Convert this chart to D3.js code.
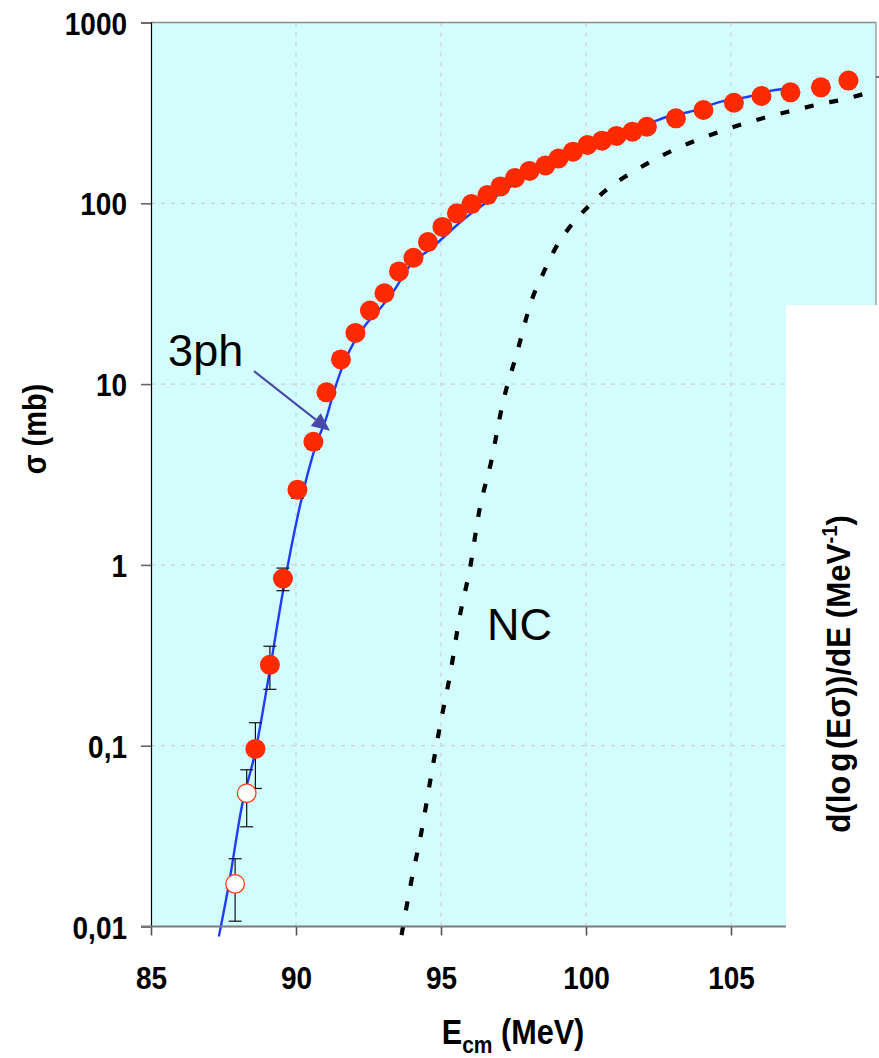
<!DOCTYPE html>
<html>
<head>
<meta charset="utf-8">
<script src="https://cdn.jsdelivr.net/npm/d3@7"></script>
<style>
  html, body { margin: 0; padding: 0; background: #ffffff; }
  svg { display: block; font-family: "Liberation Sans", Arial, Helvetica, sans-serif; }
</style>
</head>
<body>
<svg id="chart" width="879" height="1058"></svg>
<script>
// Measured fusion cross sections (mb) against centre-of-mass energy (MeV)
const energies = [88.6, 89.1, 89.55, 90.05, 90.6, 91.05, 91.55, 92.05, 92.55, 93.05,
                  93.55, 94.05, 94.55, 95.05, 95.55, 96.05, 96.6, 97.05, 97.55, 98.05,
                  98.6, 99.05, 99.55, 100.05, 100.55, 101.05, 101.6, 102.1, 103.1, 104.05,
                  105.1, 106.05, 107.05, 108.1, 109.05];
const sigma = [0.096, 0.28, 0.84, 2.6, 4.8, 9.0, 13.7, 19.2, 25.5, 31.8,
               42, 50, 61, 74, 88, 99, 111, 124, 138, 151,
               162, 177, 193, 210, 222, 236, 249, 265, 295, 328,
               360, 392, 411, 438, 477];
const sigmaErr = [0.038, 0.075, 0.12, 0.26, 0.45, 0.7, 1.0, 1.3, 1.6, 2.0,
                  2.5, 3, 3.5, 4, 4.5, 5, 5.5, 6, 6.5, 7,
                  7.5, 8, 8.5, 9, 9.5, 10, 10.5, 11, 12, 13,
                  14, 15, 16, 17, 18];

// Lowest-energy points (open symbols)
const openEnergies = [87.9, 88.3];
const openSigma = [0.0172, 0.0546];
const openErr = [0.0065, 0.019];

// Coupled-channels calculation including three-phonon states ("3ph")
const fitEnergies = [87.34, 87.69, 88.13, 88.61, 89.08, 89.56, 90.08, 90.42, 90.71, 91.06,
                     91.29, 91.52, 91.75, 91.98, 92.44, 92.9, 93.47, 93.82, 94.73, 95.89,
                     97.0, 98.0, 99.0, 100.0, 101.0, 102.3, 102.8, 103.4, 103.8, 104.4,
                     104.8, 105.4, 105.8, 106.3, 106.8, 107.1];
const fitSigma = [0.0088, 0.0173, 0.046, 0.0946, 0.252, 0.726, 1.93, 3.27, 4.71, 6.61,
                  8.89, 11.5, 14.2, 16.8, 21.7, 26.2, 34.6, 42.8, 57.5, 84.3,
                  112, 143, 176, 208, 240, 282, 301, 316, 328, 355,
                  370, 383, 395, 417, 429, 433];

// No-coupling calculation ("NC")
const ncEnergies = [93.64, 93.955, 94.33, 94.645, 94.97, 95.33, 95.63, 96.02, 96.31, 96.75,
                    97.11, 97.61, 98.13, 98.53, 98.93, 99.45, 100.04, 100.71, 101.46, 102.29,
                    103.1, 103.93, 104.76, 105.62, 106.4, 107.21, 108.07, 108.9, 109.68, 110.0];
const ncSigma = [0.00897, 0.0171, 0.0337, 0.0661, 0.130, 0.256, 0.502, 1.0, 1.95, 3.85,
                 7.6, 14.7, 29.2, 41.2, 55.8, 74.3, 94.6, 119, 144, 172,
                 200, 227, 254, 281, 305, 328, 354, 376, 406, 417];

const xTicks = [85, 90, 95, 100, 105];
const yTicks = [0.01, 0.1, 1, 10, 100, 1000];
const yTickLabels = ["0,01", "0,1", "1", "10", "100", "1000"];

// Curve labels and the arrow pointing at the 3ph curve, in data coordinates
const curveLabels = [
  { text: "3ph", e: 85.59, s: 12.6 },
  { text: "NC",  e: 96.59, s: 0.385 }
];
const arrowFrom = { e: 88.55, s: 11.8 };
const arrowTo   = { e: 91.17, s: 5.52 };

const svg = d3.select("#chart");

const x = d3.scaleLinear().domain([85, 110]).range([151, 876]);
const y = d3.scaleLog().domain([0.01, 1000]).range([926.5, 22.5]);

const plotL = x(85), plotR = x(110), plotT = y(1000), plotB = y(0.01);
const narrow = 0.875; // horizontal squeeze used for the bold axis lettering

// plot background
svg.append("rect")
  .attr("x", plotL).attr("y", plotT)
  .attr("width", plotR - plotL).attr("height", plotB - plotT)
  .attr("fill", "#d3fcfc");

// dotted grid
const grid = svg.append("g").attr("stroke", "#c9c9c9").attr("stroke-width", 1)
  .attr("stroke-dasharray", "4,6");
grid.selectAll("line.v").data(xTicks.slice(1)).join("line")
  .attr("x1", d => x(d)).attr("x2", d => x(d))
  .attr("y1", plotT).attr("y2", plotB);
grid.selectAll("line.h").data(yTicks.slice(1, -1)).join("line")
  .attr("x1", plotL).attr("x2", plotR)
  .attr("y1", d => y(d)).attr("y2", d => y(d));

// top frame
svg.append("line").attr("x1", plotL).attr("x2", plotR).attr("y1", plotT).attr("y2", plotT)
  .attr("stroke", "#8c8c8c").attr("stroke-width", 1.5);

const line = d3.line().x(d => x(d[0])).y(d => y(d[1])).curve(d3.curveMonotoneX);

// NC curve (dashed)
svg.append("path")
  .datum(d3.zip(ncEnergies, ncSigma))
  .attr("d", line)
  .attr("fill", "none").attr("stroke", "#000").attr("stroke-width", 4.2)
  .attr("stroke-dasharray", "9,16");

// 3ph curve
svg.append("path")
  .datum(d3.zip(fitEnergies, fitSigma))
  .attr("d", line)
  .attr("fill", "none").attr("stroke", "#1f3cff").attr("stroke-width", 2.4);

// error bars
function errorBars(es, ss, errs) {
  const g = svg.append("g").attr("stroke", "#111").attr("stroke-width", 1.2);
  const rows = d3.zip(es, ss, errs);
  g.selectAll("line.stem").data(rows).join("line")
    .attr("x1", d => x(d[0])).attr("x2", d => x(d[0]))
    .attr("y1", d => y(d[1] + d[2])).attr("y2", d => y(Math.max(d[1] - d[2], 1e-4)));
  g.selectAll("line.capHi").data(rows).join("line")
    .attr("x1", d => x(d[0]) - 6.5).attr("x2", d => x(d[0]) + 6.5)
    .attr("y1", d => y(d[1] + d[2])).attr("y2", d => y(d[1] + d[2]));
  g.selectAll("line.capLo").data(rows).join("line")
    .attr("x1", d => x(d[0]) - 6.5).attr("x2", d => x(d[0]) + 6.5)
    .attr("y1", d => y(d[1] - d[2])).attr("y2", d => y(d[1] - d[2]));
}
errorBars(openEnergies, openSigma, openErr);
errorBars(energies, sigma, sigmaErr);

// data markers
svg.append("g").selectAll("circle").data(d3.zip(openEnergies, openSigma)).join("circle")
  .attr("cx", d => x(d[0])).attr("cy", d => y(d[1])).attr("r", 9.3)
  .attr("fill", "#ffffff").attr("stroke", "#ff3a10").attr("stroke-width", 1.3);
svg.append("g").selectAll("circle").data(d3.zip(energies, sigma)).join("circle")
  .attr("cx", d => x(d[0])).attr("cy", d => y(d[1])).attr("r", 10)
  .attr("fill", "#ff2a00");

// y axis
const yAxis = d3.axisLeft(y).tickValues(yTicks)
  .tickFormat((d, i) => yTickLabels[i]).tickSize(10).tickPadding(14);
const gy = svg.append("g").attr("transform", `translate(${plotL},0)`).call(yAxis);
gy.select(".domain").attr("stroke", "#000").attr("stroke-width", 1.2);
gy.selectAll(".tick line").attr("stroke", "#666").attr("stroke-width", 1.6);
gy.selectAll(".tick text").attr("font-size", 32).attr("font-weight", "bold").attr("fill", "#000")
  .attr("x", -24 / narrow).attr("dy", "0.36em")
  .attr("transform", `scale(${narrow},1)`);

// x axis
const xAxis = d3.axisBottom(x).tickValues(xTicks).tickSize(9).tickPadding(31);
const gx = svg.append("g").attr("transform", `translate(0,${plotB})`).call(xAxis);
gx.select(".domain").remove();
gx.selectAll(".tick line").attr("stroke", "#555").attr("stroke-width", 1.6);
gx.selectAll(".tick text").attr("font-size", 32).attr("font-weight", "bold").attr("fill", "#000")
  .attr("transform", `scale(${narrow},1)`);
svg.append("line").attr("x1", plotL - 10).attr("x2", plotR).attr("y1", plotB).attr("y2", plotB)
  .attr("stroke", "#7a7a7a").attr("stroke-width", 2);

// panel holding the right-hand axis title
svg.append("rect").attr("x", 786).attr("y", 305).attr("width", 93).attr("height", 753)
  .attr("fill", "#ffffff");
svg.append("line").attr("x1", plotR).attr("x2", plotR).attr("y1", plotT).attr("y2", 305)
  .attr("stroke", "#8c8c8c").attr("stroke-width", 1.2);
svg.append("line").attr("x1", plotR).attr("x2", plotR + 6).attr("y1", 77).attr("y2", 77)
  .attr("stroke", "#555").attr("stroke-width", 1.6);

// axis titles
const xt = svg.append("text")
  .attr("transform", `translate(513,1044) scale(${narrow},1)`)
  .attr("text-anchor", "middle").attr("font-size", 35).attr("font-weight", "bold");
xt.append("tspan").text("E");
xt.append("tspan").attr("font-size", 24).attr("dy", 9).text("cm");
xt.append("tspan").attr("dy", -9).text(" (MeV)");

svg.append("text").attr("transform", `translate(46,429) rotate(-90) scale(${narrow},1)`)
  .attr("text-anchor", "middle").attr("font-size", 33).attr("font-weight", "bold")
  .text("σ (mb)");

const rt = svg.append("text").attr("transform", "translate(850,674) rotate(-90) scale(0.92,1)")
  .attr("text-anchor", "middle").attr("font-size", 34).attr("font-weight", "bold");
rt.append("tspan").text("d(l");
rt.append("tspan").attr("letter-spacing", 4).text("og");
rt.append("tspan").text("(Eσ))/dE (MeV");
rt.append("tspan").attr("font-size", 22).attr("dy", -13).text("-1");
rt.append("tspan").attr("dy", 13).text(")");

// curve labels
svg.append("g").selectAll("text").data(curveLabels).join("text")
  .attr("x", d => x(d.e)).attr("y", d => y(d.s))
  .attr("font-size", 45).attr("fill", "#000").text(d => d.text);

// arrow to the 3ph curve
const ax1 = x(arrowFrom.e), ay1 = y(arrowFrom.s), ax2 = x(arrowTo.e), ay2 = y(arrowTo.s);
const ang = Math.atan2(ay2 - ay1, ax2 - ax1);
const headLen = 18, headHalf = 8;
const bx = ax2 - headLen * Math.cos(ang), by = ay2 - headLen * Math.sin(ang);
svg.append("line").attr("x1", ax1).attr("y1", ay1).attr("x2", bx).attr("y2", by)
  .attr("stroke", "#4848a8").attr("stroke-width", 2);
svg.append("path")
  .attr("d", `M${ax2},${ay2}L${bx + headHalf * Math.sin(ang)},${by - headHalf * Math.cos(ang)}L${bx - headHalf * Math.sin(ang)},${by + headHalf * Math.cos(ang)}Z`)
  .attr("fill", "#4848a8");
</script>
</body>
</html>
